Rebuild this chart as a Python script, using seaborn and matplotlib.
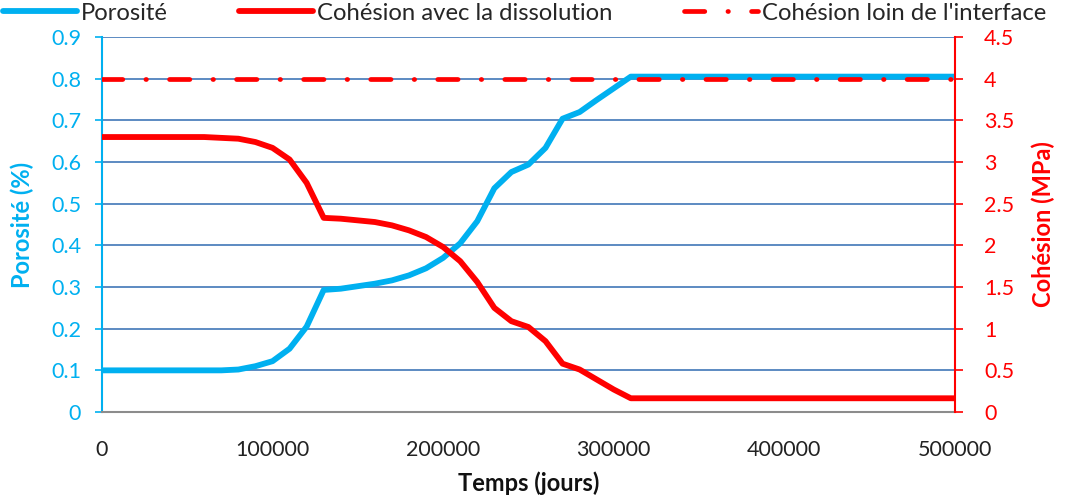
import matplotlib
matplotlib.use("Agg")
import matplotlib.pyplot as plt
import seaborn as sns
import numpy as np
import pandas as pd

# ---- data ----
temps = [0, 10000, 20000, 30000, 40000, 50000, 60000, 70000, 80000, 90000,
         100000, 110000, 120000, 130000, 140000, 150000, 160000, 170000, 180000, 190000,
         200000, 210000, 220000, 230000, 240000, 250000, 260000, 270000, 280000, 290000,
         300000, 310000, 320000, 350000, 400000, 450000, 500000]
porosite = [0.1, 0.1, 0.1, 0.1, 0.1, 0.1, 0.1, 0.1, 0.102, 0.11,
            0.122, 0.152, 0.205, 0.293, 0.296, 0.302, 0.308, 0.316, 0.328, 0.345,
            0.37, 0.405, 0.458, 0.537, 0.576, 0.594, 0.634, 0.704, 0.72, 0.749,
            0.777, 0.805, 0.805, 0.805, 0.805, 0.805, 0.805]
cohesion_diss = [3.3, 3.3, 3.3, 3.3, 3.3, 3.3, 3.3, 3.29, 3.28, 3.24,
                 3.17, 3.03, 2.75, 2.33, 2.32, 2.30, 2.28, 2.24, 2.18, 2.1,
                 1.98, 1.81, 1.56, 1.25, 1.09, 1.02, 0.85, 0.58, 0.51, 0.39,
                 0.27, 0.165, 0.165, 0.165, 0.165, 0.165, 0.165]
cohesion_loin = [4.0] * len(temps)

xticks = [0, 100000, 200000, 300000, 400000, 500000]
yticks_left = [0, 0.1, 0.2, 0.3, 0.4, 0.5, 0.6, 0.7, 0.8, 0.9]
yticks_right = [0, 0.5, 1, 1.5, 2, 2.5, 3, 3.5, 4, 4.5]

df = pd.DataFrame({"t": temps, "por": porosite, "cd": cohesion_diss, "cl": cohesion_loin})

sns.set_theme(style="white")
plt.rcParams["font.family"] = ["Lato", "DejaVu Sans"]

CYAN = "#00B0F0"
RED = "#FF0000"
GRID = "#4F81BD"

fig = plt.figure(figsize=(10.84, 5.04), dpi=100)
ax = fig.add_axes([0.094, 0.1825, 0.787, 0.744])
ax2 = ax.twinx()

sns.lineplot(data=df, x="t", y="por", ax=ax, color=CYAN, lw=4.2, label="Porosité", legend=False)
sns.lineplot(data=df, x="t", y="cd", ax=ax2, color=RED, lw=4.2, label="Cohésion avec la dissolution", legend=False)
sns.lineplot(data=df, x="t", y="cl", ax=ax2, color=RED, lw=3.4,
             linestyle=(0, (4.3, 4.9, 0.1, 4.9)), dash_capstyle="round",
             label="Cohésion loin de l'interface", legend=False)

ax.set_xlim(0, 500000)
ax.set_ylim(0, 0.9)
ax2.set_ylim(0, 4.5)
ax.set_xticks(xticks)
ax.set_xticklabels([str(v) for v in xticks], fontsize=15.5, color="#222222")
ax.set_yticks(yticks_left)
ax.set_yticklabels([f"{v:g}" for v in yticks_left], fontsize=15.5, color=CYAN)
ax2.set_yticks(yticks_right)
ax2.set_yticklabels([f"{v:g}" for v in yticks_right], fontsize=15.5, color=RED)

ax.grid(axis="y", color=GRID, lw=1.3)
ax.grid(axis="x", visible=False)
ax2.grid(False)

for s in ["top", "right"]:
    ax.spines[s].set_visible(False)
ax.spines["left"].set_color(CYAN)
ax.spines["left"].set_linewidth(1.5)
ax.spines["bottom"].set_color("#8C8C8C")
ax.spines["bottom"].set_linewidth(1.5)
for s in ["top", "left", "bottom"]:
    ax2.spines[s].set_visible(False)
ax2.spines["right"].set_color(RED)
ax2.spines["right"].set_linewidth(1.5)

ax.tick_params(axis="y", which="major", length=5, width=1.2, color=CYAN, left=True, pad=10)
ax.tick_params(axis="x", length=0, pad=20)
ax2.tick_params(axis="y", length=6, width=1.2, color=RED, right=True, pad=15)

ax.set_xlabel("Temps (jours)", fontsize=17, fontweight="bold", color="#111111", labelpad=8)
ax.set_ylabel("Porosité (%)", fontsize=17, fontweight="bold", color=CYAN, labelpad=12)
ax2.set_ylabel("Cohésion (MPa)", fontsize=17, fontweight="bold", color=RED, labelpad=12)

h1, l1 = ax.get_legend_handles_labels()
h2, l2 = ax2.get_legend_handles_labels()
fig.legend(h1 + h2, l1 + l2, loc="upper left", bbox_to_anchor=(0.003, 0.995), ncol=3,
           frameon=False, fontsize=17.2, handlelength=3.1, handletextpad=0.15,
           columnspacing=3.0, borderpad=0.0, borderaxespad=0)

fig.savefig("out.png", dpi=100)
